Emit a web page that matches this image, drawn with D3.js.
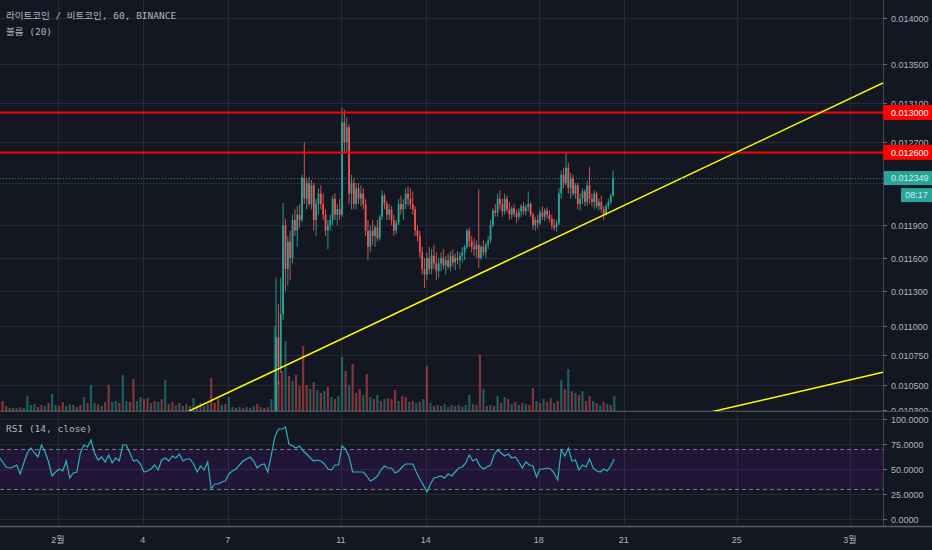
<!DOCTYPE html>
<html><head><meta charset="utf-8">
<script src="https://cdn.jsdelivr.net/npm/d3@7"></script>
<style>html,body{margin:0;padding:0;background:#131722;overflow:hidden}</style>
</head><body><svg id="c" width="932" height="550"></svg>
<script>
// ---------------- data ----------------
const titleText = "라이트코인 / 비트코인, 60, BINANCE";
const volumeLabel = "볼륨 (20)";
const rsiLabel = "RSI (14, close)";
const priceTicks = [0.014, 0.0135, 0.0131, 0.0127, 0.0123, 0.0119, 0.0116, 0.0113, 0.011, 0.01075, 0.0105, 0.0103];
const rsiTicks = [100, 75, 50, 25, 0];
const timeTicks = ["2019-02-01", "2019-02-04", "2019-02-07", "2019-02-11", "2019-02-14", "2019-02-18", "2019-02-21", "2019-02-25", "2019-03-01"];
const timeTickLabels = ["2월", "4", "7", "11", "14", "18", "21", "25", "3월"];
const levels = [0.013, 0.0126];
const lastPrice = 0.012349;
const countdown = "08:17";
const trendLines = [
  [["2019-02-05T18:00Z", 0.0103], ["2019-02-27T23:00Z", 0.0130]],
  [["2019-02-24T11:00Z", 0.0103], ["2019-03-02T06:00Z", 0.01061]]
];
// candles: [open, high, low, close] in 1e-6 BTC, 2-hour steps
const candleStart = "2019-02-08T15:00Z";
const candleStepHours = 2;
const ohlc = [
[10200,10290,10180,10250],[10250,11420,10240,10900],[10900,11190,10500,10650],[10650,11420,10600,11100],[11100,12110,11050,11900],
[11900,11960,11300,11500],[11500,11800,11350,11750],[11750,11850,11400,11600],[11600,12000,11550,11950],[11950,12050,11800,11850],
[11850,12080,11700,12000],[12000,12100,11880,11950],[11950,12380,11930,12350],[12350,12700,12100,12150],[12150,12350,12050,12300],
[12300,12360,12080,12100],[12100,12330,12050,12280],[12280,12300,11850,11950],[11950,12150,11800,12100],[12100,12250,12000,12200],
[12200,12280,12050,12100],[12100,12200,11950,12000],[12000,12050,11800,11850],[11850,11950,11680,11900],[11900,12000,11850,11950],
[11950,12180,11900,12150],[12150,12200,11950,12000],[12000,12100,11900,12050],[12050,12150,11950,12000],[12000,13050,11980,12900],
[12900,13030,12600,12700],[12700,12950,12600,12850],[12850,12880,12100,12200],[12200,12380,12050,12300],[12300,12350,12050,12100],
[12100,12300,12050,12250],[12250,12300,12100,12150],[12150,12280,12080,12200],[12200,12250,12050,12100],[12100,12150,11800,11850],
[11850,11950,11580,11700],[11700,11900,11650,11850],[11850,11950,11720,11800],[11800,11900,11700,11880],[11880,11950,11750,11780],
[11780,12000,11760,11980],[11980,12230,11950,12180],[12180,12200,12050,12100],[12100,12130,11950,12000],[12000,12100,11950,12050],
[12050,12080,11900,11950],[11950,12000,11800,11850],[11850,11950,11820,11920],[11920,12150,11900,12100],[12100,12180,12000,12050],
[12050,12150,11950,12100],[12100,12250,12050,12200],[12200,12270,12080,12150],[12150,12250,12050,12100],[12100,12220,12000,12050],
[12050,12080,11800,11850],[11850,11900,11750,11800],[11800,11850,11600,11650],[11650,11700,11450,11500],[11500,11600,11330,11450],
[11450,11650,11400,11600],[11600,11700,11450,11500],[11500,11680,11450,11620],[11620,11720,11500,11550],[11550,11650,11400,11480],
[11480,11600,11420,11550],[11550,11650,11480,11600],[11600,11680,11500,11530],[11530,11620,11450,11580],[11580,11640,11500,11520],
[11520,11660,11480,11620],[11620,11680,11520,11560],[11560,11640,11490,11600],[11600,11660,11540,11580],[11580,11650,11500,11620],
[11620,11700,11560,11650],[11650,11720,11580,11700],[11700,11870,11680,11850],[11850,11880,11700,11750],[11750,11800,11650,11700],
[11700,11780,11620,11680],[11680,11760,11600,11720],[11720,12240,11510,11600],[11600,11720,11580,11700],[11700,11760,11620,11650],
[11650,11740,11600,11720],[11720,11800,11680,11760],[11760,11950,11740,11900],[11900,12060,11880,12040],[12040,12100,11980,12020],
[12020,12200,11980,12150],[12150,12230,12050,12100],[12100,12150,11980,12030],[12030,12200,12000,12150],[12150,12180,12020,12050],
[12050,12120,11950,12000],[12000,12080,11960,12060],[12060,12100,11980,12010],[12010,12050,11920,11980],[11980,12060,11950,12030],
[12030,12100,11980,12080],[12080,12120,12000,12030],[12030,12100,11990,12070],[12070,12220,12030,12100],[12100,12120,11980,12000],
[12000,12020,11860,11900],[11900,11980,11850,11950],[11950,12000,11870,11920],[11920,12050,11900,12020],[12020,12080,11950,11980],
[11980,12060,11940,12040],[12040,12070,11960,12000],[12000,12040,11930,11960],[11960,12000,11860,11900],[11900,11960,11850,11880],
[11880,11950,11840,11920],[11920,12250,11900,12200],[12200,12420,12150,12380],[12380,12450,12250,12300],[12300,12600,12280,12450],
[12450,12500,12200,12250],[12250,12400,12150,12350],[12350,12380,12180,12200],[12200,12300,12150,12280],[12280,12300,12050,12100],
[12100,12200,12040,12150],[12150,12250,12100,12220],[12220,12240,12080,12120],[12120,12320,12080,12280],[12280,12460,12100,12150],
[12150,12200,12080,12120],[12120,12230,12050,12200],[12200,12220,12060,12080],[12080,12150,12040,12120],[12120,12180,12020,12050],
[12050,12080,11950,12000],[12000,12100,11990,12080],[12080,12150,12050,12120],[12120,12200,12100,12180],[12180,12426,12170,12349]
];
// volume and RSI series, 3-hour steps
const seriesStart = "2019-01-29T22:00Z";
const seriesStepHours = 3;
const volume = [
800,1000,500,300,300,300,400,300,1500,600, 700,400,600,500,800,1700,600,500,900,500,
700,600,400,600,1400,800,2600,800,700,500, 900,2600,900,1000,800,3600,1000,900,3200,1000,
1400,1200,1300,800,1000,900,1200,3100,700,900, 600,800,500,700,500,1300,600,800,500,700,
3300,800,1200,600,700,1400,400,300,400,300, 400,300,500,700,400,300,400,1200,8500,3000,
4000,7000,3500,3000,3600,2500,6500,2600,2200,2900, 2100,1800,2000,2400,1400,1200,1500,5400,4000,2600,
4700,1800,2200,1600,3700,1400,1200,1600,1000,1200, 1300,1200,2100,1000,1500,1400,900,1000,800,900,
1200,4500,800,500,600,500,700,400,600,500, 600,400,600,1600,700,600,5600,2200,500,600,
500,1500,800,1400,1200,700,900,600,800,700, 600,2300,1000,800,1200,900,1300,800,1000,3100,
2200,4200,2000,1800,1600,2000,1000,1500,1000,800, 600,900,700,600,1500
];
const volumeDir = ("dddududuuu" + "udduduuddu" + "udududuudu" + "dduuduuddu" + "uddudududd" +
  "ududuududu" + "ddduduudud" + "ududduduud" + "dududdddud" + "udududuudu" +
  "dddudududu" + "ddduddudud" + "ududududud" + "uduudududu" + "dududududu" +
  "ddududdudu" + "dudududdud" + "ududu").split("");
const rsi = [
62,57,52,51,52,54,45,56,66,71, 66,62,74,67,57,43,47,50,48,58, 41,46,47,66,74,72,79,66,59,62,
57,64,56,61,58,74,74,66,58,59, 55,47,48,50,54,49,59,61,58,63, 61,65,58,60,60,55,47,53,49,57,
30,35,35,37,38,45,48,50,54,58, 60,62,58,51,54,55,47,64,82,90, 90,92,75,73,71,73,68,65,61,58,
59,58,55,50,49,54,54,73,70,62, 47,47,47,47,43,38,40,43,49,53, 51,51,46,48,52,55,55,55,47,40,
34,27,35,41,42,43,41,45,43,47, 51,52,56,64,58,60,53,50,52,54, 64,69,66,63,65,61,62,57,51,57,
54,53,42,50,50,51,50,46,39,69, 63,71,58,59,49,54,52,60,51,48, 47,50,48,53,60
];
const PRICE_UNIT = 1e-6;

// ---------------- layout ----------------
const W = 932, H = 550;
const AXIS_X = 883;
const PRICE_BOT = 411, RSI_TOP = 412, RSI_BOT = 526;
const BG = "#131722", GRID = "#262a35", TXT = "#b2b5be";
const UP = "#26a69a", DOWN = "#ef5350";
const FONT = "'Liberation Sans', Arial, sans-serif";

const svg = d3.select("#c");
const H_MS = 3600 * 1000;
const x = d3.scaleUtc()
  .domain([new Date("2019-02-01T00:00Z"), new Date("2019-03-01T00:00Z")])
  .range([58, 850]);
const yP = d3.scaleLog().domain([0.0103, 0.014]).range([409.5, 18]);
const yR = d3.scaleLinear().domain([0, 100]).range([519, 419]);
const yV = d3.scaleLinear().domain([0, 10000]).range([PRICE_BOT, PRICE_BOT - 100]);

svg.append("rect").attr("width", W).attr("height", H).attr("fill", BG);

const defs = svg.append("defs");
defs.append("clipPath").attr("id", "cp").append("rect").attr("x", 0).attr("y", 0).attr("width", AXIS_X).attr("height", PRICE_BOT);
defs.append("clipPath").attr("id", "cr").append("rect").attr("x", 0).attr("y", RSI_TOP).attr("width", AXIS_X).attr("height", RSI_BOT - RSI_TOP);
defs.append("clipPath").attr("id", "cpa").append("rect").attr("x", AXIS_X).attr("y", 0).attr("width", W - AXIS_X).attr("height", PRICE_BOT);

// grid
const grid = svg.append("g").attr("stroke", GRID).attr("stroke-width", 1);
timeTicks.forEach(t => {
  const xx = Math.round(x(new Date(t + "T00:00Z"))) + 0.5;
  grid.append("line").attr("x1", xx).attr("x2", xx).attr("y1", 0).attr("y2", RSI_BOT);
});
priceTicks.forEach(p => {
  const yy = Math.round(yP(p)) + 0.5;
  if (yy < PRICE_BOT) grid.append("line").attr("x1", 0).attr("x2", AXIS_X).attr("y1", yy).attr("y2", yy);
});
rsiTicks.forEach(r => {
  const yy = Math.round(yR(r)) + 0.5;
  grid.append("line").attr("x1", 0).attr("x2", AXIS_X).attr("y1", yy).attr("y2", yy);
});

// price pane
const pp = svg.append("g").attr("clip-path", "url(#cp)");
const s0 = new Date(seriesStart).getTime();
const c0 = new Date(candleStart).getTime();

// volume
pp.append("g").selectAll("rect").data(volume).join("rect")
  .attr("x", (v, k) => x(new Date(s0 + k * seriesStepHours * H_MS)) - 1.1)
  .attr("width", 2.2)
  .attr("y", v => yV(v))
  .attr("height", v => PRICE_BOT - yV(v))
  .attr("fill", (v, k) => volumeDir[k] === "u" ? "rgba(38,166,154,0.5)" : "rgba(239,83,80,0.5)");

// candles
const cg = pp.append("g");
ohlc.forEach((d, i) => {
  const [o, h, l, c] = d.map(v => v * PRICE_UNIT);
  const xc = x(new Date(c0 + i * candleStepHours * H_MS));
  const col = c >= o ? UP : DOWN;
  cg.append("line").attr("x1", xc).attr("x2", xc).attr("y1", yP(h)).attr("y2", yP(l))
    .attr("stroke", col).attr("stroke-width", 0.9);
  const top = yP(Math.max(o, c)), bot = yP(Math.min(o, c));
  cg.append("rect").attr("x", xc - 0.9).attr("width", 1.8).attr("y", top)
    .attr("height", Math.max(1, bot - top)).attr("fill", col);
});

// horizontal levels
levels.forEach(p => {
  pp.append("line").attr("x1", 0).attr("x2", AXIS_X).attr("y1", yP(p)).attr("y2", yP(p))
    .attr("stroke", "#ff0000").attr("stroke-width", 2);
});

// trend lines
trendLines.forEach(([a, b]) => {
  const x1 = x(new Date(a[0])), y1 = yP(a[1]), x2 = x(new Date(b[0])), y2 = yP(b[1]);
  const m = (y2 - y1) / (x2 - x1);
  pp.append("line").attr("x1", 0).attr("y1", y1 + m * (0 - x1))
    .attr("x2", AXIS_X).attr("y2", y1 + m * (AXIS_X - x1))
    .attr("stroke", "#ffff00").attr("stroke-width", 1.5);
});

// last price line
pp.append("line").attr("x1", 0).attr("x2", AXIS_X).attr("y1", Math.round(yP(lastPrice)) + 0.5).attr("y2", Math.round(yP(lastPrice)) + 0.5)
  .attr("stroke", UP).attr("stroke-width", 1).attr("stroke-dasharray", "1,2").attr("opacity", 0.8);

// RSI pane
const rp = svg.append("g").attr("clip-path", "url(#cr)");
rp.append("rect").attr("x", 0).attr("width", AXIS_X).attr("y", yR(70)).attr("height", yR(30) - yR(70))
  .attr("fill", "rgba(153,21,255,0.1)");
[70, 30].forEach(r => {
  rp.append("line").attr("x1", 0).attr("x2", AXIS_X).attr("y1", Math.round(yR(r)) + 0.5).attr("y2", Math.round(yR(r)) + 0.5)
    .attr("stroke", "#787b86").attr("stroke-width", 1).attr("stroke-dasharray", "4,3");
});
rp.append("path").datum(rsi)
  .attr("d", d3.line().x((v, k) => x(new Date(s0 + k * seriesStepHours * H_MS))).y(v => yR(v)))
  .attr("fill", "none").attr("stroke", "#2ab3b8").attr("stroke-width", 1.2);

// separators & axis line
svg.append("line").attr("x1", 0).attr("x2", W).attr("y1", PRICE_BOT + 0.5).attr("y2", PRICE_BOT + 0.5).attr("stroke", "#4a4e5a").attr("stroke-width", 1.2);
svg.append("line").attr("x1", 0).attr("x2", W).attr("y1", RSI_BOT + 0.5).attr("y2", RSI_BOT + 0.5).attr("stroke", "#5d606b").attr("stroke-width", 1.5);
svg.append("line").attr("x1", AXIS_X + 0.5).attr("x2", AXIS_X + 0.5).attr("y1", 0).attr("y2", RSI_BOT).attr("stroke", "#434651").attr("stroke-width", 1);

// price axis labels (a label hidden under the last-price tag is not drawn)
const lastY = yP(lastPrice);
const pa = svg.append("g").attr("clip-path", "url(#cpa)").attr("font-family", FONT).attr("font-size", 9).attr("fill", TXT);
priceTicks.forEach(p => {
  const yy = Math.round(yP(p)) + 0.5;
  pa.append("line").attr("x1", AXIS_X).attr("x2", AXIS_X + 4).attr("y1", yy).attr("y2", yy).attr("stroke", "#6a6d78");
  if (Math.abs(yy - lastY) > 9) pa.append("text").attr("x", 891).attr("y", yy + 3.3).text(p.toFixed(6));
});
// level labels
levels.forEach(p => {
  const yy = yP(p);
  svg.append("rect").attr("x", AXIS_X).attr("y", yy - 7.5).attr("width", W - AXIS_X).attr("height", 15).attr("fill", "#ff0000");
  svg.append("text").attr("x", 891).attr("y", yy + 3.3).attr("font-family", FONT).attr("font-size", 9).attr("fill", "#ffffff").text(p.toFixed(6));
});
// last price label + countdown
{
  const yy = lastY;
  svg.append("rect").attr("x", AXIS_X + 1).attr("y", yy - 7).attr("width", W - AXIS_X - 1).attr("height", 14).attr("fill", "#26a69a");
  svg.append("text").attr("x", 891).attr("y", yy + 3.3).attr("font-family", FONT).attr("font-size", 9).attr("fill", "#d8eeec").text(lastPrice.toFixed(6));
  svg.append("rect").attr("x", 901).attr("y", yy + 10).attr("width", W - 901).attr("height", 14).attr("fill", "#26a69a");
  svg.append("text").attr("x", 916.5).attr("y", yy + 20.3).attr("text-anchor", "middle").attr("font-family", FONT).attr("font-size", 9).attr("fill", "#d8eeec").text(countdown);
}
// RSI axis labels
const ra = svg.append("g").attr("font-family", FONT).attr("font-size", 9).attr("fill", TXT);
rsiTicks.forEach(r => {
  const yy = Math.round(yR(r)) + 0.5;
  ra.append("line").attr("x1", AXIS_X).attr("x2", AXIS_X + 4).attr("y1", yy).attr("y2", yy).attr("stroke", "#6a6d78");
  ra.append("text").attr("x", 891).attr("y", yy + 3.3).text(r.toFixed(4));
});

// time axis labels
const ta = svg.append("g").attr("font-family", FONT + ", 'Noto Sans CJK KR'").attr("font-size", 9).attr("fill", TXT).attr("text-anchor", "middle");
timeTicks.forEach((t, i) => {
  ta.append("text").attr("x", x(new Date(t + "T00:00Z"))).attr("y", 543).text(timeTickLabels[i]);
});

// titles
const tf = "'DejaVu Sans Mono', 'Noto Sans CJK KR', monospace";
svg.append("text").attr("x", 6).attr("y", 19).attr("font-family", tf).attr("font-size", 9.5).attr("fill", TXT).text(titleText);
svg.append("text").attr("x", 6).attr("y", 35).attr("font-family", tf).attr("font-size", 9.5).attr("fill", TXT).text(volumeLabel);
svg.append("text").attr("x", 6).attr("y", 432).attr("font-family", tf).attr("font-size", 9.5).attr("fill", TXT).text(rsiLabel);
</script>
</body></html>
